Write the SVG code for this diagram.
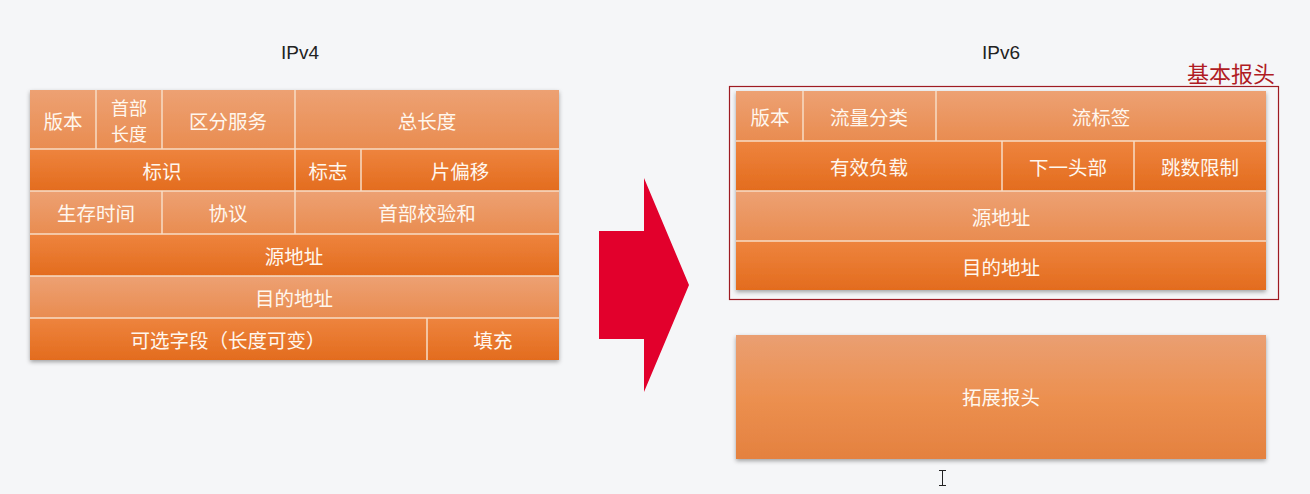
<svg xmlns="http://www.w3.org/2000/svg" width="1310" height="494" viewBox="0 0 1310 494">
<defs>
<linearGradient id="lt" x1="0" y1="0" x2="0" y2="1"><stop offset="0" stop-color="#EDA173"/><stop offset="1" stop-color="#E98C50"/></linearGradient>
<linearGradient id="dk" x1="0" y1="0" x2="0" y2="1"><stop offset="0" stop-color="#EE843E"/><stop offset="1" stop-color="#E36C1E"/></linearGradient>
<linearGradient id="ext" x1="0" y1="0" x2="0" y2="1"><stop offset="0" stop-color="#EA9F72"/><stop offset="0.5" stop-color="#EC9050"/><stop offset="1" stop-color="#E4813F"/></linearGradient>
<filter id="sh" x="-5%" y="-5%" width="110%" height="115%"><feDropShadow dx="0" dy="2" stdDeviation="2" flood-color="#000" flood-opacity="0.35"/></filter>
</defs>
<style>
.t{font-family:"Noto Sans CJK SC","Noto Sans",sans-serif;font-size:19.5px;fill:#FFF7EE;text-anchor:middle;dominant-baseline:central}
.s{font-size:18px}
.h{font-family:"Liberation Sans","Noto Sans",sans-serif;font-size:19px;fill:#222;text-anchor:middle}
.c{stroke:#F7DCC6;stroke-width:1.5}
.L{fill:url(#lt)}
.D{fill:url(#dk)}
</style>
<rect width="1310" height="494" fill="#F5F6F8"/>
<text class="h" x="300" y="59">IPv4</text>
<text class="h" x="1001" y="59">IPv6</text>

<g id="ipv4" filter="url(#sh)">
<rect class="L" x="30" y="90" width="529" height="59"/>
<rect class="D" x="30" y="149" width="529" height="42"/>
<rect class="L" x="30" y="191" width="529" height="43"/>
<rect class="D" x="30" y="234" width="529" height="42"/>
<rect class="L" x="30" y="276" width="529" height="42"/>
<rect class="D" x="30" y="318" width="529" height="42"/>
</g>
<g id="ipv4-lines">
<line class="c" x1="30" y1="149" x2="559" y2="149"/>
<line class="c" x1="30" y1="191" x2="559" y2="191"/>
<line class="c" x1="30" y1="234" x2="559" y2="234"/>
<line class="c" x1="30" y1="276" x2="559" y2="276"/>
<line class="c" x1="30" y1="318" x2="559" y2="318"/>
<line class="c" x1="96" y1="90" x2="96" y2="149"/>
<line class="c" x1="162" y1="90" x2="162" y2="149"/>
<line class="c" x1="295" y1="90" x2="295" y2="234"/>
<line class="c" x1="361" y1="149" x2="361" y2="191"/>
<line class="c" x1="162" y1="191" x2="162" y2="234"/>
<line class="c" x1="427" y1="318" x2="427" y2="360"/>
</g>
<g id="ipv4-text">
<text class="t" x="63" y="120">版本</text>
<text class="t s" x="129" y="107">首部</text>
<text class="t s" x="129" y="133">长度</text>
<text class="t" x="228" y="120">区分服务</text>
<text class="t" x="427" y="120">总长度</text>
<text class="t" x="162" y="170">标识</text>
<text class="t" x="328" y="170">标志</text>
<text class="t" x="460" y="170">片偏移</text>
<text class="t" x="96" y="212">生存时间</text>
<text class="t" x="228" y="212">协议</text>
<text class="t" x="427" y="212">首部校验和</text>
<text class="t" x="294" y="255">源地址</text>
<text class="t" x="294" y="297">目的地址</text>
<text class="t" x="228" y="339">可选字段（长度可变）</text>
<text class="t" x="493" y="339">填充</text>
</g>

<g id="arrow">
<polygon points="599,231 644,231 644,178 689,285 644,392 644,339 599,339" fill="#E2002C"/>
</g>

<g id="basic-header">
<rect x="729.5" y="86.5" width="549" height="213" fill="none" stroke="#9E1B22" stroke-width="1.2"/>
<text x="1231" y="82" font-family="Noto Sans CJK SC,sans-serif" font-size="22" fill="#B01C24" text-anchor="middle">基本报头</text>
</g>
<g id="ipv6" filter="url(#sh)">
<rect class="L" x="736" y="91" width="530" height="50"/>
<rect class="D" x="736" y="141" width="530" height="50"/>
<rect class="L" x="736" y="191" width="530" height="50"/>
<rect class="D" x="736" y="241" width="530" height="49"/>
</g>
<g id="ipv6-lines">
<line class="c" x1="736" y1="141" x2="1266" y2="141"/>
<line class="c" x1="736" y1="191" x2="1266" y2="191"/>
<line class="c" x1="736" y1="241" x2="1266" y2="241"/>
<line class="c" x1="803" y1="91" x2="803" y2="141"/>
<line class="c" x1="936" y1="91" x2="936" y2="141"/>
<line class="c" x1="1002" y1="141" x2="1002" y2="191"/>
<line class="c" x1="1134" y1="141" x2="1134" y2="191"/>
</g>
<g id="ipv6-text">
<text class="t" x="770" y="116">版本</text>
<text class="t" x="869" y="116">流量分类</text>
<text class="t" x="1101" y="116">流标签</text>
<text class="t" x="869" y="166">有效负载</text>
<text class="t" x="1068" y="166">下一头部</text>
<text class="t" x="1200" y="166">跳数限制</text>
<text class="t" x="1001" y="216">源地址</text>
<text class="t" x="1001" y="266">目的地址</text>
</g>

<g id="ext-header">
<rect x="736" y="335" width="530" height="124" fill="url(#ext)" filter="url(#sh)"/>
<text class="t" x="1001" y="396">拓展报头</text>
</g>

<g id="cursor" stroke="#222" stroke-width="1" fill="none">
<line x1="942.5" y1="471" x2="942.5" y2="485"/>
<line x1="939" y1="470.5" x2="946" y2="470.5"/>
<line x1="939" y1="485.5" x2="946" y2="485.5"/>
</g>
</svg>
